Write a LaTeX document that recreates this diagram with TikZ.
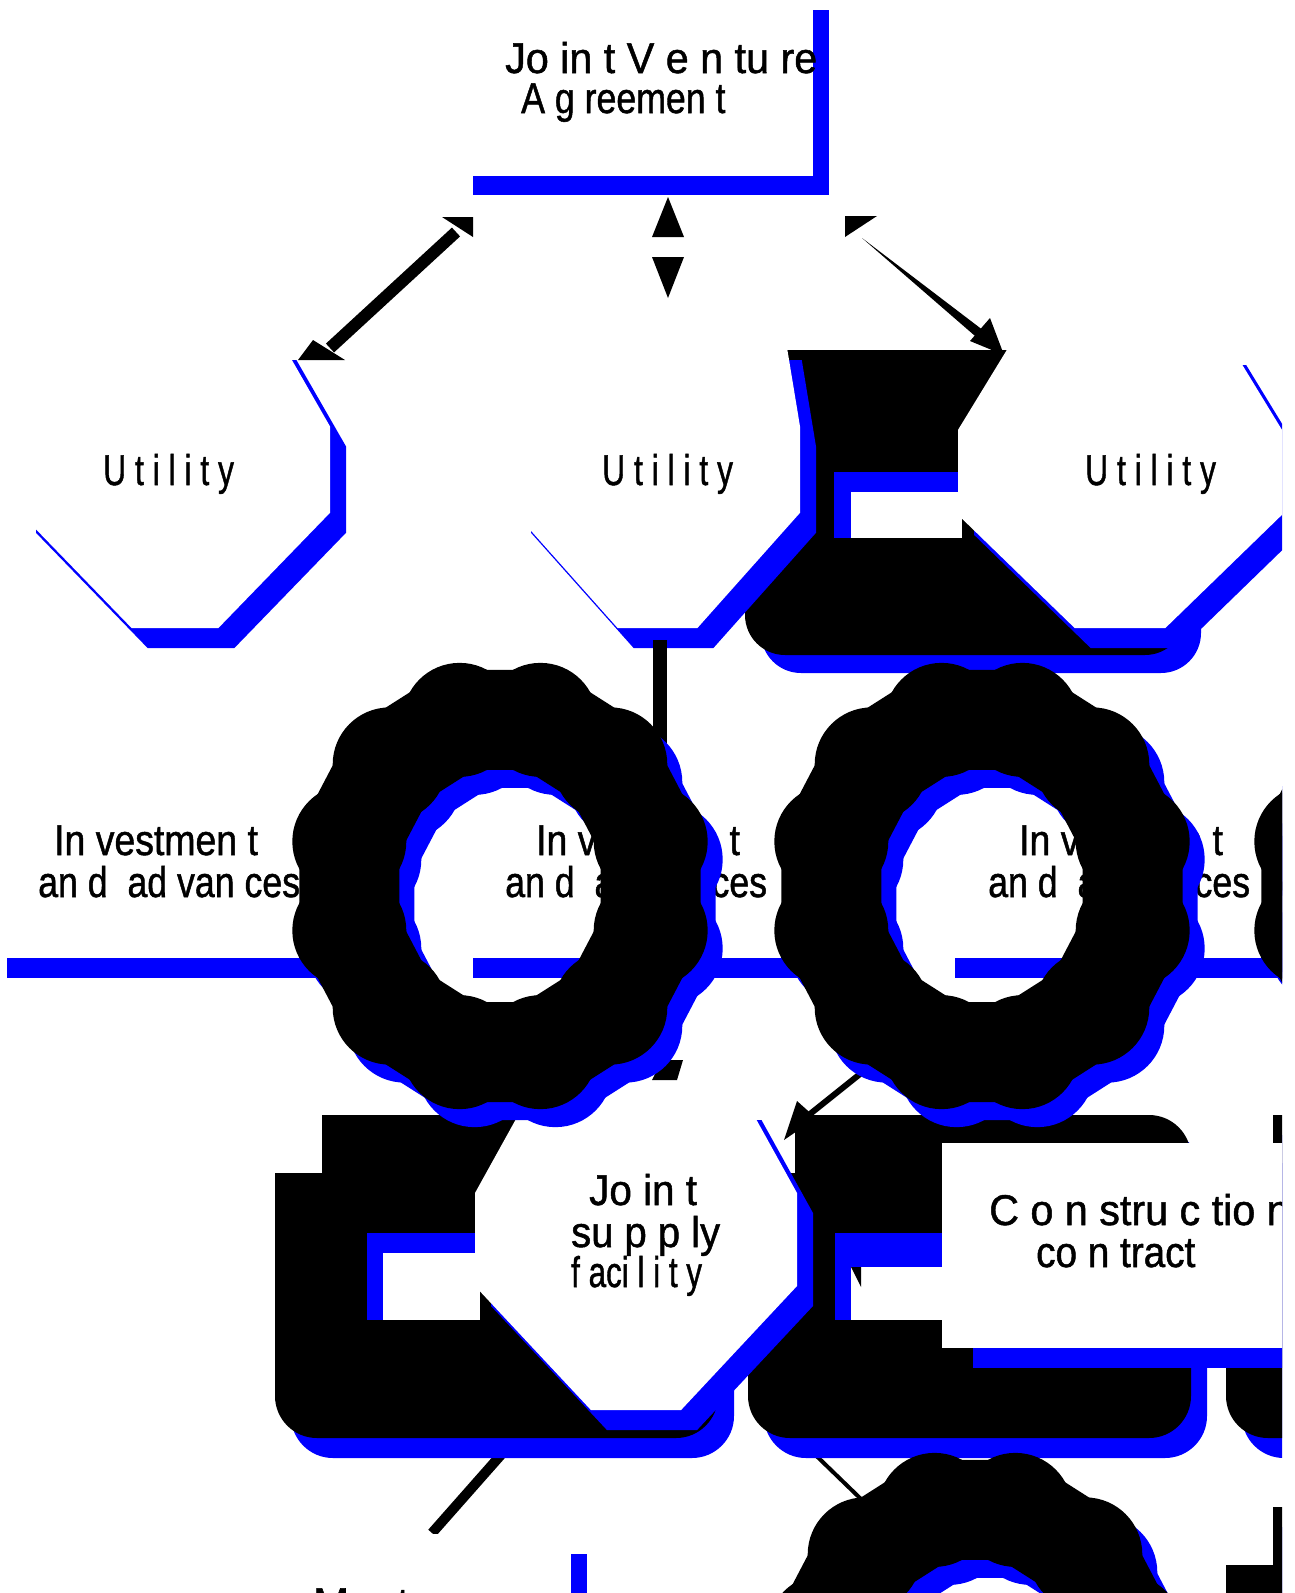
\documentclass[tikz,border=0pt]{standalone}
\usepackage{fontspec}
\setmainfont{Liberation Sans}
\newfontfamily\lblfont{Liberation Sans}[FakeBold=1.2]
\definecolor{sblue}{RGB}{0,0,255}
\tikzset{
  lbl/.style={font=\lblfont\fontsize{43}{43}\selectfont, inner sep=0pt, anchor=base west},
  conn/.style={line width=#1, black},
}
\newcommand\sx[2]{\scalebox{#1}[1]{#2}}
% stepped octagon: [top cut], colour, x1, y1, x2, y2
\newcommand\octfill[6][0.16]{%
  \fill[#2] ({#3+#1*(#5-#3)},#4) -- ({#5-#1*(#5-#3)},#4) -- (#5,{#4+0.3*(#6-#4)})
    -- (#5,{#6-0.4*(#6-#4)}) -- ({#5-0.36*(#5-#3)},#6) -- ({#3+0.36*(#5-#3)},#6)
    -- (#3,{#6-0.4*(#6-#4)}) -- (#3,{#4+0.3*(#6-#4)}) -- cycle;}
% heavy rounded ring with corner discs: colour, cx, cy
\newcommand\ringfill[3]{%
  \draw[#1, line width=100pt, line join=round]
    plot[samples at={15,45,...,345}, variable=\t] ({#2+156*cos(\t)},{#3+172*sin(\t)}) -- cycle;
  \foreach \t in {15,45,...,345} \fill[#1] ({#2+156*cos(\t)},{#3+172*sin(\t)}) circle (57pt);}
% black slab with notch and blue shadow: x0, y0
\newcommand\slab[2]{%
  \fill[sblue, rounded corners=42pt] ({#1+16},{#2+20}) rectangle ({#1+459},{#2+343});
  \fill[black, rounded corners=42pt] (#1,#2) rectangle ({#1+443},{#2+323});
  \fill[white] ({#1-1},{#2-1}) rectangle ({#1+47},{#2+58});}

\begin{document}
\begin{tikzpicture}[x=1pt,y=-1pt]
\useasboundingbox (0,0) rectangle (1294,1593);
\begin{scope}
\clip (7,10) rectangle (1282,1593);

% agreement box
\fill[sblue] (473,-30) rectangle (829,195);
\fill[white] (440,-30) rectangle (813,176);
\node[lbl] (jv1) at (505,73) {\sx{0.96}{Jo in t V e n tu re}};
\node[lbl] (jv2) at (521,113) {\sx{0.83}{A g reemen t}};

% connectors from the agreement
\coordinate (la) at (456,232);
\coordinate (lb) at (330,348);
\draw[conn=12pt] (la) -- (lb);
\fill (473,217) -- (442,217) -- (473,237) -- cycle;
\fill (298,360) -- (313,340) -- (345,360) -- cycle;
\coordinate (mu) at (668,197);
\coordinate (md) at (668,298);
\fill (mu) -- (652,237) -- (684,237) -- cycle;
\fill (md) -- (652,257) -- (684,257) -- cycle;
\coordinate (ra) at (862,238);
\coordinate (rb) at (1004,355);
\fill (845,216) -- (877,216) -- (845,237) -- cycle;
\fill (ra) -- (988,334) -- (982,342) -- cycle;
\fill (990,318) -- (rb) -- (970,341) -- cycle;

% first row slab
\fill[sblue, rounded corners=40pt] (761,368) rectangle (1201,673);
\fill[black, rounded corners=40pt] (745,350) rectangle (1185,655);

% utilities
\octfill{sblue}{36}{360}{346}{648}
\octfill{white}{20}{340}{330}{628}
\octfill[0.05]{sblue}{531}{360}{816}{648}
\octfill[0.05]{white}{515}{340}{800}{628}
\octfill{sblue}{974}{365}{1298}{648}
\octfill{white}{958}{345}{1282}{628}
\fill[sblue] (834,472) rectangle (958,538);
\fill[white] (851,492) rectangle (962,538);
\node[lbl] (u1) at (103,485) {\sx{0.74}{U t i l i t y}};
\node[lbl] (u2) at (602,485) {\sx{0.74}{U t i l i t y}};
\node[lbl] (u3) at (1085,485) {\sx{0.74}{U t i l i t y}};

% investment boxes
\foreach \c in {157,640,1122} {
  \fill[sblue] ({\c-167},786) rectangle ({\c+199},978);
  \fill[white] ({\c-183},766) rectangle ({\c+183},958);
}
\node[lbl] (i1a) at (54,855) {\sx{0.87}{In vestmen t}};
\node[lbl] (i1b) at (38,897) {\sx{0.83}{an d\ \ ad van ces}};
\node[lbl] (i2a) at (536,855) {\sx{0.87}{In vestmen t}};
\node[lbl] (i2b) at (505,897) {\sx{0.83}{an d\ \ ad van ces}};
\node[lbl] (i3a) at (1019,855) {\sx{0.87}{In vestmen t}};
\node[lbl] (i3b) at (988,897) {\sx{0.83}{an d\ \ ad van ces}};

% lower connectors
\coordinate (va) at (660,640);
\coordinate (vb) at (660,1062);
\draw[conn=14pt] (va) -- (vb);
\fill (662,1060) -- (683,1060) -- (677,1080) -- (652,1080) -- cycle;
\coordinate (sa) at (875,1062);
\coordinate (sb) at (800,1122);
\draw[conn=6pt] (sa) -- (sb);
\coordinate (ja) at (545,1405);
\coordinate (jb) at (432,1533);
\draw[conn=10pt] (ja) -- (jb);
\coordinate (ca) at (800,1440);
\coordinate (cb) at (862,1500);
\draw[conn=4pt] (ca) -- (cb);

% third row slabs
\slab{275}{1115}
\slab{748}{1115}
\slab{1226}{1115}
\slab{1226}{1507}
\fill[sblue] (367,1233) rectangle (480,1320);
\fill[white] (383,1253) rectangle (480,1320);
\fill[sblue] (835,1233) rectangle (942,1320);
\fill[white] (851,1267) rectangle (942,1320);
\fill (851,1267) -- (861,1267) -- (861,1287) -- cycle;

% joint supply facility
\octfill{sblue}{491}{1120}{813}{1430}
\octfill{white}{475}{1100}{797}{1410}
\node[lbl] (js1) at (589,1205) {\sx{0.94}{Jo in t}};
\node[lbl] (js2) at (571,1247) {\sx{0.93}{su p p ly}};
\node[lbl] (js3) at (571,1287) {\sx{0.73}{f aci l i t y}};

% construction contract
\fill[sblue] (973,1163) rectangle (1300,1368);
\fill[white] (942,1143) rectangle (1284,1348);
\node[lbl] (cc1) at (989,1225) {\sx{0.96}{C o n stru c tio n}};
\node[lbl] (cc2) at (1036,1267) {\sx{0.90}{co n tract}};

% bottom box
\fill[sblue] (240,1554) rectangle (587,1640);
\fill[white] (200,1534) rectangle (571,1640);
\node[lbl] (m1) at (313,1618) {M\hspace{48pt}t};

% rings
\ringfill{sblue}{515}{904}
\ringfill{black}{500}{886}
\ringfill{sblue}{997}{904}
\ringfill{black}{982}{886}
\ringfill{sblue}{1477}{904}
\ringfill{black}{1462}{886}
\ringfill{sblue}{990}{1694}
\ringfill{black}{975}{1676}

% arrowhead onto the lower slab
\fill (797,1101) -- (784,1140) -- (816,1118) -- cycle;
\end{scope}
\end{tikzpicture}
\end{document}
